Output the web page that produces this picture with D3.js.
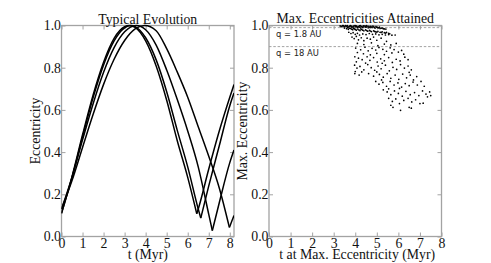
<!DOCTYPE html>
<html><head><meta charset="utf-8">
<script src="https://cdn.jsdelivr.net/npm/d3@7"></script>
<style>
html,body{margin:0;padding:0;background:#fff;}
svg{display:block;}
</style></head>
<body>
<script>
// ---------- DATA ----------
const xTicks = [0,1,2,3,4,5,6,7,8];
const yTicks = [0.0,0.2,0.4,0.6,0.8,1.0];
const leftTitle = "Typical Evolution";
const rightTitle = "Max. Eccentricities Attained";
const leftXLabel = "t (Myr)";
const leftYLabel = "Eccentricity";
const rightXLabel = "t at Max. Eccentricity (Myr)";
const rightYLabel = "Max. Eccentricity";

// four typical eccentricity evolutions: [t (Myr), e]
const curveA = [[0,.11],[.5,.284],[1,.482],[1.5,.670],[2,.826],[2.5,.939],[3,.994],[3.22,1],[3.5,.991],[4,.927],[4.5,.808],[5,.646],[5.5,.455],[6,.28],[6.43,.108],[6.5,.13],[7,.32],[7.5,.50],[8,.66],[8.2,.72]];
const curveB = [[0,.11],[.5,.279],[1,.472],[1.5,.657],[2,.813],[2.5,.927],[3,.989],[3.3,1],[3.5,.995],[4,.942],[4.5,.837],[5,.686],[5.5,.504],[6,.33],[6.5,.13],[6.62,.087],[7,.24],[7.5,.43],[8,.62],[8.2,.68]];
const curveC = [[0,.13],[.5,.281],[1,.458],[1.5,.628],[2,.778],[2.5,.895],[3,.970],[3.55,1],[4,.980],[4.5,.907],[5,.789],[5.5,.65],[6,.50],[6.5,.33],[7,.105],[7.17,.028],[7.5,.16],[8,.35],[8.2,.41]];
const curveD = [[0,.13],[.5,.265],[1,.422],[1.5,.578],[2,.721],[2.5,.840],[3,.929],[3.5,.984],[3.95,1],[4.5,.975],[5,.89],[5.5,.78],[6,.66],[6.5,.52],[7,.38],[7.5,.23],[7.98,.043],[8.2,.10]];

// reference eccentricities for pericentre limits
const qLines = [{e:0.99, label:"q = 1.8 AU"},{e:0.9, label:"q = 18 AU"}];

// maximum eccentricity vs time it was reached: [t (Myr), e_max]
const bandPoints = [
[3.30,.998],[3.38,.996],[3.45,.999],[3.52,.994],[3.58,.997],[3.63,.999],[3.70,.993],[3.74,.996],[3.80,.998],[3.85,.992],[3.90,.996],[3.95,.999],[4.00,.994],[4.05,.997],[4.10,.991],[4.15,.995],[4.20,.998],[4.25,.993],[4.30,.996],[4.35,.990],[4.40,.994],[4.45,.998],[4.50,.992],[4.55,.995],[4.60,.989],[4.66,.993],[4.72,.996],[4.78,.990],[4.85,.994],[4.92,.988],[5.00,.992],[5.08,.989],[5.15,.986],[5.25,.988],[5.35,.984],
[3.34,.994],[3.41,.999],[3.48,.996],[3.55,.999],[3.66,.995],[3.77,.999],[3.83,.995],[3.93,.993],[4.02,.999],[4.08,.995],[4.18,.992],[4.23,.999],[4.33,.993],[4.38,.998],[4.48,.995],[4.53,.999],[4.63,.996],[4.69,.990],[4.75,.993],[4.82,.997],[4.89,.991],[4.96,.995],[5.04,.990],[5.12,.992],[5.20,.987],[5.30,.985],[5.42,.983],
[3.50,.988],[3.60,.985],[3.68,.982],[3.78,.986],[3.88,.980],[3.96,.984],[4.05,.978],[4.12,.983],[4.22,.976],[4.30,.981],[4.40,.975],[4.48,.979],[4.58,.973],[4.66,.977],[4.75,.971],[4.85,.975],[4.95,.970],[5.05,.972],[5.15,.968],[5.25,.970],[5.35,.966],[5.45,.967],[5.55,.963],
[3.64,.990],[3.72,.987],[3.83,.983],[3.92,.987],[4.00,.981],[4.17,.979],[4.26,.984],[4.35,.978],[4.53,.976],[4.70,.974],[4.90,.972],[5.00,.969],[5.20,.967],[5.40,.964],[5.60,.961],
[3.70,.968],[3.80,.962],[3.90,.966],[4.00,.958],[4.10,.963],[4.20,.955],[4.35,.960],[4.50,.957],[4.65,.962],[4.80,.958],[4.95,.960],[5.10,.956],[5.25,.958],[5.40,.955],[5.55,.957],[5.70,.954],[5.85,.955],
[3.85,.945],[3.95,.938],[4.05,.948],[4.15,.932],[4.28,.942],[4.40,.928],[4.55,.940],[4.70,.935],[4.85,.945],[5.00,.930],[5.20,.940],[5.45,.925],
[4.10,.915],[4.40,.91],[4.75,.918],[5.05,.905],[5.35,.912],[5.65,.908],[5.90,.915]
];
const spreadPoints = [
[4.02,.893],[4.25,.885],[4.45,.897],[4.60,.880],[4.78,.892],[4.95,.884],[5.10,.896],[5.28,.887],[5.45,.878],[5.62,.894],[5.80,.886],[6.00,.874],[6.15,.882],[4.10,.872],[4.38,.866],[4.70,.861],[5.00,.868],[5.35,.862],[5.70,.870],[6.25,.864],
[3.98,.852],[4.15,.845],[4.32,.838],[4.55,.852],[4.68,.835],[4.85,.848],[5.02,.827],[5.18,.842],[5.35,.833],[5.55,.848],[5.72,.825],[5.90,.840],[6.08,.832],[6.30,.850],[6.45,.838],[4.05,.828],[4.48,.822],[5.25,.821],
[3.97,.812],[4.08,.798],[4.22,.806],[4.40,.790],[4.58,.815],[4.74,.800],[4.90,.788],[5.06,.808],[5.20,.795],[5.40,.812],[5.58,.785],[5.75,.802],[5.92,.792],[6.10,.815],[6.28,.798],[6.45,.808],[6.60,.790],[4.00,.782],[4.30,.780],[5.00,.780],
[3.98,.772],[4.18,.765],[4.62,.772],[4.85,.760],[5.12,.768],[5.30,.755],[5.48,.772],[5.65,.750],[5.85,.765],[6.02,.745],[6.20,.770],[6.38,.752],[6.55,.765],[6.70,.742],[6.85,.758],[5.22,.742],[6.50,.778],
[4.95,.735],[5.10,.722],[5.28,.730],[5.45,.712],[5.62,.735],[5.80,.718],[5.98,.728],[6.15,.708],[6.32,.725],[6.50,.715],[6.68,.732],[6.88,.718],[7.05,.735],[7.20,.712],[5.55,.700],[6.05,.702],
[5.30,.695],[5.48,.685],[5.65,.672],[5.82,.690],[6.00,.678],[6.18,.665],[6.35,.688],[6.55,.672],[6.75,.682],[6.95,.668],[7.12,.690],[7.28,.675],[7.45,.685],[7.50,.668],[7.35,.662],
[5.55,.655],[5.72,.640],[5.88,.652],[6.05,.630],[6.25,.645],[6.45,.655],[6.62,.638],[6.80,.648],[7.00,.630],[7.15,.632],[5.65,.622],
[5.75,.612],[6.10,.598],[6.50,.612],[6.60,.608]
];

// ---------- LAYOUT ----------
const W = 491, H = 263;
const SERIF = "'Liberation Serif','Times New Roman',serif";
const FS = 13.8;
const FRAME = "#a3a3a3";

const svg = d3.select("body").append("svg").attr("width", W).attr("height", H);

function panel(box, xDomain, title, xlabel, ylabel, ylabelX) {
  const g = svg.append("g");
  const x = d3.scaleLinear().domain(xDomain).range([box.x0, box.x1]);
  const y = d3.scaleLinear().domain([0, 1]).range([box.y1, box.y0]);

  const styleAxis = sel => {
    sel.select(".domain").remove();
    sel.selectAll(".tick line").attr("stroke", FRAME).attr("stroke-width", 1);
    sel.selectAll(".tick text").attr("font-family", SERIF).attr("font-size", FS).attr("fill", "#111");
  };
  g.append("g").attr("transform", `translate(0,${box.y1})`)
    .call(d3.axisBottom(x).tickValues(xTicks).tickFormat(d3.format("d")).tickSize(-4).tickPadding(2))
    .call(styleAxis);
  g.append("g").attr("transform", `translate(0,${box.y0})`)
    .call(d3.axisTop(x).tickValues(xTicks).tickFormat("").tickSize(-4))
    .call(styleAxis);
  g.append("g").attr("transform", `translate(${box.x0},0)`)
    .call(d3.axisLeft(y).tickValues(yTicks).tickFormat(d3.format(".1f")).tickSize(-4).tickPadding(0.5))
    .call(styleAxis);
  g.append("g").attr("transform", `translate(${box.x1},0)`)
    .call(d3.axisRight(y).tickValues(yTicks).tickFormat("").tickSize(-4))
    .call(styleAxis);

  g.append("rect").attr("x", box.x0).attr("y", box.y0)
    .attr("width", box.x1 - box.x0).attr("height", box.y1 - box.y0)
    .attr("fill", "none").attr("stroke", FRAME).attr("stroke-width", 1.3);

  g.append("text").attr("x", (box.x0 + box.x1) / 2).attr("y", box.titleY)
    .attr("text-anchor", "middle").attr("font-family", SERIF).attr("font-size", FS)
    .attr("fill", "#111").text(title);
  g.append("text").attr("x", (box.x0 + box.x1) / 2 + (box.xlabelDx || 0)).attr("y", 258.5)
    .attr("text-anchor", "middle").attr("font-family", SERIF).attr("font-size", FS)
    .attr("fill", "#111").text(xlabel);
  g.append("text").attr("transform", `translate(${ylabelX},${(box.y0 + box.y1) / 2}) rotate(-90)`)
    .attr("text-anchor", "middle").attr("font-family", SERIF).attr("font-size", FS)
    .attr("fill", "#111").text(ylabel);
  return {g, x, y};
}

// ---------- LEFT PANEL ----------
const Lbox = {x0: 61.5, x1: 234, y0: 25.5, y1: 236.5, titleY: 23.5};
const left = panel(Lbox, [0, 8.2], leftTitle, leftXLabel, leftYLabel, 39.5);

const line = d3.line().x(d => left.x(d[0])).y(d => left.y(d[1])).curve(d3.curveMonotoneX);
// split each curve at its local minima so the turning points stay sharp
function splitAtMinima(pts) {
  const parts = []; let cur = [pts[0]];
  for (let i = 1; i < pts.length; i++) {
    cur.push(pts[i]);
    if (i < pts.length - 1 && pts[i][1] < pts[i-1][1] && pts[i][1] < pts[i+1][1]) {
      parts.push(cur); cur = [pts[i]];
    }
  }
  parts.push(cur);
  return parts;
}
svg.append("clipPath").attr("id", "clipL").append("rect")
  .attr("x", Lbox.x0).attr("y", Lbox.y0 - 2).attr("width", Lbox.x1 - Lbox.x0).attr("height", Lbox.y1 - Lbox.y0 + 2);
const curvesG = left.g.append("g").attr("clip-path", "url(#clipL)");
[curveA, curveB, curveC, curveD].forEach(c => {
  splitAtMinima(c).forEach(part => {
    curvesG.append("path").attr("d", line(part)).attr("fill", "none")
      .attr("stroke", "#000").attr("stroke-width", 1.5).attr("stroke-linejoin", "round");
  });
});

// ---------- RIGHT PANEL ----------
const Rbox = {x0: 269, x1: 441.5, y0: 25.5, y1: 236.5, titleY: 23, xlabelDx: 2};
const right = panel(Rbox, [0, 8], rightTitle, rightXLabel, rightYLabel, 246.5);

qLines.forEach(q => {
  right.g.append("line").attr("x1", Rbox.x0).attr("x2", Rbox.x1)
    .attr("y1", right.y(q.e)).attr("y2", right.y(q.e))
    .attr("stroke", "#999").attr("stroke-width", 0.9).attr("stroke-dasharray", "2.5,1.8");
  right.g.append("text").attr("x", Rbox.x0 + 7).attr("y", right.y(q.e) + 9.5)
    .attr("font-family", "'DejaVu Sans',sans-serif").attr("font-size", 8.4)
    .attr("fill", "#222").text(q.label);
});

right.g.append("g").selectAll("circle").data(bandPoints.concat(spreadPoints)).join("circle")
  .attr("cx", d => right.x(d[0])).attr("cy", d => right.y(d[1]))
  .attr("r", 0.85).attr("fill", "#000");
</script>
</body></html>
